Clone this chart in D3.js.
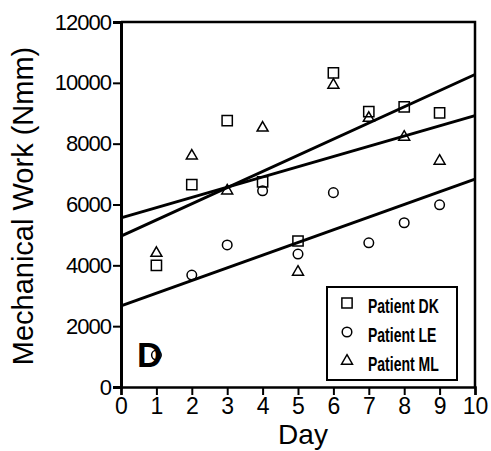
<!DOCTYPE html>
<html>
<head>
<meta charset="utf-8">
<script src="https://cdn.jsdelivr.net/npm/d3@7"></script>
<style>
  body { margin: 0; background: #fff; }
  svg { font-family: "Liberation Sans", Arial, Helvetica, sans-serif; }
</style>
</head>
<body>
<div id="chart"></div>
<script>
// values, days 1..9
const days = [1, 2, 3, 4, 5, 6, 7, 8, 9];
const workDK = [4000, 6650, 8760, 6740, 4800, 10330, 9050, 9210, 9010];
const workLE = [1050, 3680, 4670, 6450, 4370, 6390, 4740, 5400, 5990];
const workML = [4400, 7600, 6450, 8520, 3780, 9930, 8840, 8220, 7430];
const patients = ['Patient DK', 'Patient LE', 'Patient ML'];
const xTicks = [0, 1, 2, 3, 4, 5, 6, 7, 8, 9, 10];
const yTicks = [0, 2000, 4000, 6000, 8000, 10000, 12000];

const width = 491, height = 451;
const margin = { top: 22, right: 16, bottom: 64, left: 121 };

const svg = d3.select('#chart').append('svg')
  .attr('width', width)
  .attr('height', height);

const x = d3.scaleLinear().domain([0, 10]).range([margin.left, width - margin.right]);
const y = d3.scaleLinear().domain([0, 12000]).range([height - margin.bottom, margin.top]);

const series = [
  { name: patients[0], values: workDK, type: d3.symbolSquare, size: 105 },
  { name: patients[1], values: workLE, type: d3.symbolCircle, size: 72 },
  { name: patients[2], values: workML, type: d3.symbolTriangle, size: 52 }
];

// least squares fit for each patient
function fit(xs, ys) {
  let mx = d3.mean(xs), my = d3.mean(ys);
  let sxy = d3.sum(xs, (v, i) => (v - mx) * (ys[i] - my));
  let sxx = d3.sum(xs, v => (v - mx) * (v - mx));
  let b = sxy / sxx;
  return { a: my - b * mx, b: b };
}

// frame (top and right)
svg.append('path')
  .attr('d', `M${x(0)},${y(12000)}H${x(10)}V${y(0)}`)
  .attr('fill', 'none')
  .attr('stroke', '#000')
  .attr('stroke-width', 2.5);

// axes
const xAxis = svg.append('g')
  .attr('transform', `translate(0,${y(0)})`)
  .call(d3.axisBottom(x).tickValues(xTicks).tickSize(8).tickPadding(3));
const yAxis = svg.append('g')
  .attr('transform', `translate(${x(0)},0)`)
  .call(d3.axisLeft(y).tickValues(yTicks).tickSize(8).tickPadding(2).tickFormat(d3.format('d')));

xAxis.select('.domain').attr('stroke-width', 2.5);
yAxis.select('.domain').attr('stroke-width', 3);
svg.selectAll('.tick line').attr('stroke-width', 2);
xAxis.selectAll('text').attr('font-size', 23).attr('font-family', 'Liberation Sans, Arial, sans-serif');
yAxis.selectAll('text').attr('font-size', 22).attr('font-family', 'Liberation Sans, Arial, sans-serif')
  .attr('letter-spacing', -1);

// regression lines
series.forEach(s => {
  let f = fit(days, s.values);
  svg.append('line')
    .attr('x1', x(0)).attr('y1', y(f.a))
    .attr('x2', x(10)).attr('y2', y(f.a + f.b * 10))
    .attr('stroke', '#000')
    .attr('stroke-width', 3);
});

// points
series.forEach(s => {
  svg.append('g').selectAll('path')
    .data(s.values)
    .enter().append('path')
    .attr('transform', (d, i) => `translate(${x(days[i])},${y(d)})`)
    .attr('d', d3.symbol().type(s.type).size(s.size))
    .attr('fill', 'none')
    .attr('stroke', '#000')
    .attr('stroke-width', 1.5);
});

// panel letter
svg.append('text')
  .attr('x', 137).attr('y', 367)
  .attr('font-size', 35)
  .attr('font-weight', 'bold')
  .text('D');

// axis titles
svg.append('text')
  .attr('x', 303).attr('y', 444)
  .attr('text-anchor', 'middle')
  .attr('font-size', 28)
  .text('Day');

svg.append('text')
  .attr('transform', 'translate(33,206) rotate(-90)')
  .attr('text-anchor', 'middle')
  .attr('font-size', 29)
  .text('Mechanical Work (Nmm)');

// legend
const legend = svg.append('g');
legend.append('rect')
  .attr('x', 327).attr('y', 287)
  .attr('width', 130).attr('height', 93)
  .attr('fill', '#fff')
  .attr('stroke', '#000')
  .attr('stroke-width', 2);

series.forEach((s, i) => {
  let cy = 303 + i * 29;
  legend.append('path')
    .attr('transform', `translate(347,${cy})`)
    .attr('d', d3.symbol().type(s.type).size(s.size))
    .attr('fill', 'none')
    .attr('stroke', '#000')
    .attr('stroke-width', 1.5);
  let t = legend.append('text')
    .attr('x', 368).attr('y', cy + 10)
    .attr('font-size', 20)
    .attr('font-weight', 'bold')
    .text(s.name);
  let len = t.node().getComputedTextLength();
  t.attr('textLength', len * 0.7).attr('lengthAdjust', 'spacingAndGlyphs');
});
</script>
</body>
</html>
